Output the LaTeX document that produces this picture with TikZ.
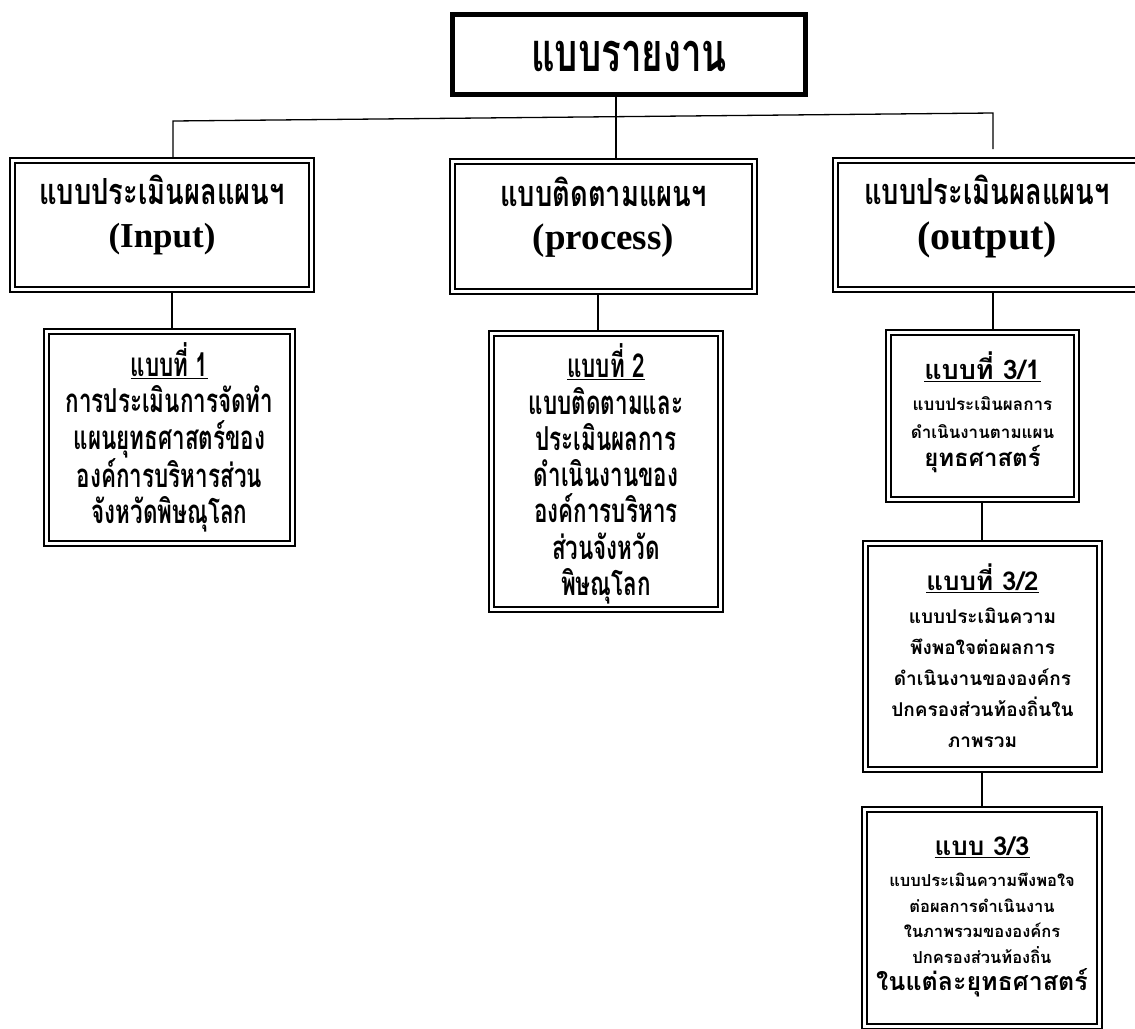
\documentclass[tikz,border=0pt]{standalone}
\usepackage{fontspec}
\setmainfont{Liberation Serif}
\newfontfamily\thc[Script=Thai,FakeStretch=0.68]{Loma}
\newfontfamily\thh[Script=Thai,FakeStretch=0.76]{Loma}
\newfontfamily\thn[Script=Thai]{Loma}
\usetikzlibrary{calc}
\begin{document}
\begin{tikzpicture}[x=1pt,y=-1pt,
  box/.style={draw, line width=2pt, inner sep=0pt, outer sep=0pt},
  topbox/.style={draw, line width=5pt, inner sep=0pt, outer sep=0pt},
  txt/.style={align=center, inner sep=0pt},
  headth/.style={txt, font=\thh\bfseries\fontsize{36}{36}\selectfont},
  con/.style={line width=1.3pt},
  inner/.style={line width=2.6pt}
]
\useasboundingbox (0,0) rectangle (1135,1028);
\fill[white] (0,0) rectangle (1135,1028);

% boxes
\node[topbox, minimum width=353pt, minimum height=80pt] (top) at (629,54.5) {};
\node[box, minimum width=304pt, minimum height=134pt] (box1) at (162,225) {};
\node[box, minimum width=307pt, minimum height=135pt] (box2) at (603.5,226.5) {};
\node[box, minimum width=310pt, minimum height=134pt] (box3) at (988,225) {};
\node[box, minimum width=251pt, minimum height=217pt] (child1) at (169.5,437.5) {};
\node[box, minimum width=234pt, minimum height=281pt] (child2) at (606,471.5) {};
\node[box, minimum width=193pt, minimum height=172pt] (b31) at (982.5,416) {};
\node[box, minimum width=239pt, minimum height=231pt] (b32) at (982.5,656.5) {};
\node[box, minimum width=240pt, minimum height=222pt] (b33) at (982,918) {};

\foreach \n in {box1,box2,box3,child1,child2,b31,b32,b33}
  \draw[inner] ([shift={(5,5)}]\n.north west) rectangle ([shift={(-5,-5)}]\n.south east);

% texts
\node[txt, font=\thc\bfseries\fontsize{54}{54}\selectfont] (toptext) at (629,56) {แบบรายงาน};

\node[headth] (box1th) at (162,190) {แบบประเมินผลแผนฯ};
\node[txt, font=\bfseries\fontsize{35}{35}\selectfont] (box1en) at (162,239) {(Input)};
\node[headth] (box2th) at (603.5,192) {แบบติดตามแผนฯ};
\node[txt, font=\bfseries\fontsize{37}{37}\selectfont] (box2en) at (603.5,241) {(process)};
\node[headth] (box3th) at (987,190) {แบบประเมินผลแผนฯ};
\node[txt, font=\bfseries\fontsize{40}{40}\selectfont] (box3en) at (987,240) {(output)};

\node[txt, font=\thc\bfseries\fontsize{33}{36.3}\selectfont] (child1text) at (169.5,437.5)
  {\underline{แบบที่ 1}\\ การประเมินการจัดทำ\\ แผนยุทธศาสตร์ของ\\ องค์การบริหารส่วน\\ จังหวัดพิษณุโลก};
\node[txt, font=\thc\bfseries\fontsize{33}{36.3}\selectfont] (child2text) at (606,474)
  {\underline{แบบที่ 2}\\ แบบติดตามและ\\ ประเมินผลการ\\ ดำเนินงานของ\\ องค์การบริหาร\\ ส่วนจังหวัด\\ พิษณุโลก};

\node[txt, font=\thn\bfseries\fontsize{17}{28}\selectfont] (b31text) at (982.5,412)
  {{\fontsize{27}{28}\selectfont\underline{แบบที่ 3/1}}\\[3pt] แบบประเมินผลการ\\ ดำเนินงานตามแผน\\ {\fontsize{24}{28}\selectfont ยุทธศาสตร์}};
\node[txt, font=\thn\bfseries\fontsize{19}{31}\selectfont] (b32text) at (982.5,656)
  {{\fontsize{26}{31}\selectfont\underline{แบบที่ 3/2}}\\[2pt] แบบประเมินความ\\ พึงพอใจต่อผลการ\\ ดำเนินงานขององค์กร\\ ปกครองส่วนท้องถิ่นใน\\ ภาพรวม};
\node[txt, font=\thn\bfseries\fontsize{16.5}{25.5}\selectfont] (b33text) at (982,917)
  {{\fontsize{26}{25.5}\selectfont\underline{แบบ 3/3}}\\[6pt] แบบประเมินความพึงพอใจ\\ ต่อผลการดำเนินงาน\\ ในภาพรวมขององค์กร\\ ปกครองส่วนท้องถิ่น\\[2pt] {\fontsize{25}{25.5}\selectfont ในแต่ละยุทธศาสตร์}};

% connectors
\coordinate (jl) at (173,121);
\coordinate (jr) at (993,113);
\coordinate (je) at (993,149);
\coordinate (jm) at (616,0);
\coordinate (c1) at (172,0);
\coordinate (c2) at (598,0);
\coordinate (c3) at (993,0);
\coordinate (c4) at (982,0);
\draw[con] (top.south -| jm) -- (box2.north -| jm);
\draw[con] (box1.north -| jl) -- (jl) -- (jr) -- (je);
\draw[con] (box1.south -| c1) -- (child1.north -| c1);
\draw[con] (box2.south -| c2) -- (child2.north -| c2);
\draw[con] (box3.south -| c3) -- (b31.north -| c3);
\draw[con] (b31.south -| c4) -- (b32.north -| c4);
\draw[con] (b32.south -| c4) -- (b33.north -| c4);
\end{tikzpicture}
\end{document}
